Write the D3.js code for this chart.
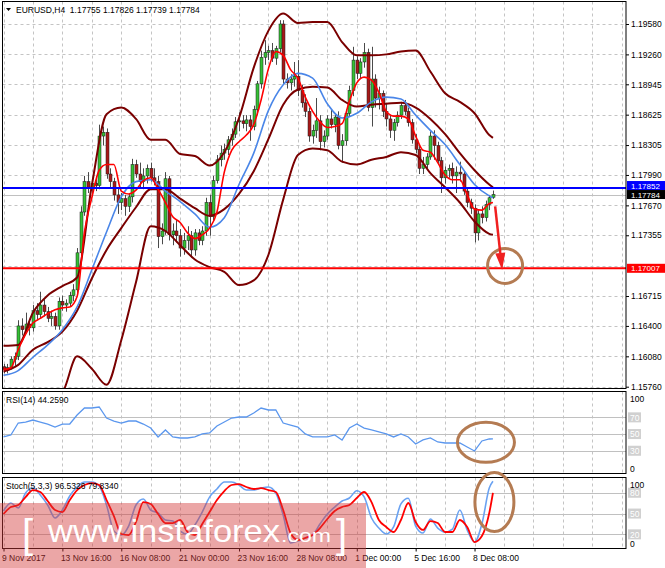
<!DOCTYPE html>
<html><head><meta charset="utf-8">
<script src="https://cdn.jsdelivr.net/npm/d3@7"></script>
<style>
html,body{margin:0;padding:0;background:#fff;}
svg{display:block;}
text{font-family:"Liberation Sans",Arial,sans-serif;}
</style></head><body>
<svg id="c" width="665" height="568"></svg>
<script>
// ---------- DATA ----------
const symbolTitle = "EURUSD,H4  1.17755 1.17826 1.17739 1.17784";
const rsiTitle = "RSI(14) 44.2590";
const stochTitle = "Stoch(5,3,3) 96.5326 79.8340";

const xTickBars = [0,16,32,48,64,80,96,112,128];
const xTickLabels = ["9 Nov 2017","13 Nov 16:00","16 Nov 08:00","21 Nov 00:00","23 Nov 16:00","28 Nov 08:00","1 Dec 00:00","5 Dec 16:00","8 Dec 08:00"];
const priceTicks = [1.19580,1.19260,1.18945,1.18625,1.18305,1.17990,1.17670,1.17355,1.17035,1.16715,1.16400,1.16080,1.15760];
const priceLabelTicks = [1.19580,1.19260,1.18945,1.18625,1.18305,1.17990,1.17670,1.17355,1.16715,1.16400,1.16080,1.15760];
const rsiLevels = [70,50,30];
const stochLevels = [80,50,20];

const open = [1.1597,1.1594,1.1596,1.1605,1.1608,1.1640,1.1636,1.1642,1.1638,1.1656,1.1652,1.1662,1.1655,1.1648,1.1650,1.1640,1.1666,1.1662,1.1664,1.1672,
1.1678,1.1717,1.1760,1.1792,1.1786,1.1790,1.1788,1.1840,1.1844,1.1800,1.1792,1.1778,1.1770,1.1774,1.1766,1.1776,1.1810,1.1800,1.1792,1.1798,
1.1806,1.1796,1.1792,1.1734,1.1740,1.1795,1.1736,1.1740,1.1735,1.1722,1.1730,1.1735,1.1720,1.1738,1.1730,1.1740,1.1770,1.1755,1.1793,1.1815,
1.1822,1.1826,1.1836,1.1842,1.1855,1.1856,1.1853,1.1857,1.1850,1.1868,1.1895,1.1923,1.1928,1.1930,1.1922,1.1932,1.1958,1.1900,1.1896,1.1900,
1.1903,1.1888,1.1875,1.1866,1.1840,1.1846,1.1856,1.1834,1.1840,1.1858,1.1852,1.1860,1.1830,1.1835,1.1864,1.1888,1.1920,1.1906,1.1918,1.1928,
1.1870,1.1900,1.1880,1.1885,1.1866,1.1858,1.1846,1.1854,1.1862,1.1872,1.1866,1.1854,1.1836,1.1826,1.1806,1.1810,1.1818,1.1840,1.1830,1.1814,
1.1796,1.1804,1.1806,1.1798,1.1802,1.1800,1.1782,1.1770,1.1764,1.1738,1.1758,1.1754,1.1768,1.17755];
const high = [1.1600,1.1600,1.1608,1.1612,1.1646,1.1648,1.1654,1.1646,1.1662,1.1664,1.1676,1.1668,1.1660,1.1656,1.1654,1.1670,1.1672,1.1668,1.1676,1.1684,
1.1722,1.1766,1.1798,1.1802,1.1796,1.1798,1.1852,1.1850,1.1848,1.1806,1.1796,1.1786,1.1780,1.1778,1.1780,1.1816,1.1815,1.1812,1.1806,1.1810,
1.1812,1.1806,1.1798,1.1748,1.1802,1.1798,1.1748,1.1752,1.1742,1.1738,1.1745,1.1740,1.1742,1.1742,1.1745,1.1775,1.1778,1.1798,1.1820,1.1830,
1.1832,1.1840,1.1848,1.1860,1.1865,1.1862,1.1862,1.1862,1.1872,1.1898,1.1930,1.1941,1.1935,1.1938,1.1935,1.1962,1.1962,1.1906,1.1905,1.1918,
1.1920,1.1894,1.1884,1.1870,1.1852,1.1880,1.1862,1.1846,1.1862,1.1868,1.1864,1.1866,1.1842,1.1868,1.1893,1.1934,1.1924,1.1922,1.1938,1.1932,
1.1934,1.1905,1.1892,1.1888,1.1875,1.1862,1.1858,1.1866,1.1876,1.1878,1.1870,1.1858,1.1842,1.1830,1.1818,1.1822,1.1845,1.1846,1.1834,1.1818,
1.1808,1.1810,1.1812,1.1808,1.1813,1.1803,1.1785,1.1774,1.1768,1.1762,1.1766,1.1772,1.1778,1.17826];
const low = [1.1590,1.1590,1.1594,1.1598,1.1604,1.1630,1.1632,1.1630,1.1634,1.1646,1.1648,1.1650,1.1644,1.1640,1.1636,1.1636,1.1656,1.1655,1.1660,1.1666,
1.1674,1.1712,1.1756,1.1780,1.1778,1.1782,1.1784,1.1830,1.1795,1.1786,1.1772,1.1758,1.1762,1.1756,1.1760,1.1770,1.1796,1.1786,1.1784,1.1790,
1.1792,1.1788,1.1722,1.1726,1.1736,1.1730,1.1725,1.1728,1.1713,1.1715,1.1720,1.1712,1.1714,1.1725,1.1725,1.1735,1.1735,1.1750,1.1790,1.1808,
1.1815,1.1820,1.1830,1.1838,1.1845,1.1848,1.1845,1.1835,1.1846,1.1862,1.1890,1.1915,1.1920,1.1918,1.1915,1.1928,1.1895,1.1890,1.1888,1.1892,
1.1882,1.1870,1.1860,1.1834,1.1832,1.1838,1.1825,1.1828,1.1836,1.1848,1.1844,1.1826,1.1812,1.1830,1.1860,1.1882,1.1900,1.1900,1.1912,1.1866,
1.1850,1.1870,1.1868,1.1860,1.1850,1.1838,1.1835,1.1850,1.1858,1.1862,1.1850,1.1832,1.1822,1.1800,1.1800,1.1806,1.1815,1.1815,1.1810,1.1780,
1.1790,1.1796,1.1790,1.1780,1.1792,1.1778,1.1765,1.1758,1.1728,1.1730,1.1748,1.1750,1.1762,1.17739];
const close = [1.1594,1.1596,1.1605,1.1608,1.1640,1.1636,1.1642,1.1638,1.1656,1.1652,1.1662,1.1655,1.1648,1.1650,1.1640,1.1666,1.1662,1.1664,1.1672,1.1678,
1.1717,1.1760,1.1792,1.1786,1.1790,1.1788,1.1840,1.1844,1.1800,1.1792,1.1778,1.1770,1.1774,1.1766,1.1776,1.1810,1.1800,1.1792,1.1798,1.1806,
1.1796,1.1792,1.1734,1.1740,1.1795,1.1736,1.1740,1.1735,1.1722,1.1730,1.1735,1.1720,1.1738,1.1730,1.1740,1.1770,1.1755,1.1793,1.1815,1.1822,
1.1826,1.1836,1.1842,1.1855,1.1856,1.1853,1.1857,1.1850,1.1868,1.1895,1.1923,1.1928,1.1930,1.1922,1.1932,1.1958,1.1900,1.1896,1.1900,1.1903,
1.1888,1.1875,1.1866,1.1840,1.1846,1.1856,1.1834,1.1840,1.1858,1.1852,1.1860,1.1830,1.1835,1.1864,1.1888,1.1920,1.1906,1.1918,1.1928,1.1870,
1.1900,1.1880,1.1885,1.1866,1.1858,1.1846,1.1854,1.1862,1.1872,1.1866,1.1854,1.1836,1.1826,1.1806,1.1810,1.1818,1.1840,1.1830,1.1814,1.1796,
1.1804,1.1806,1.1798,1.1802,1.1800,1.1782,1.1770,1.1764,1.1738,1.1758,1.1754,1.1768,1.1775,1.17784];

// indicator samples (bar index lists)
const slowBars = [0,4,8,12,16,20,24,28,32,36,40,44,48,52,56,60,64,68,72,76,80,84,88,92,96,100,104,108,112,116,120,124,128,132,133];
const bbUpper = [1.1619,1.1620,1.1654,1.1672,1.1682,1.1691,1.1788,1.1863,1.1870,1.1858,1.1836,1.1836,1.1821,1.1819,1.1809,1.1823,1.1859,1.1912,1.1951,1.1969,1.1959,1.1960,1.1960,1.1939,1.1925,1.1925,1.1926,1.1929,1.1930,1.1908,1.1885,1.1876,1.1864,1.1841,1.1838];
const bbMiddle = [1.1592,1.1599,1.1615,1.1623,1.1634,1.1656,1.1690,1.1720,1.1743,1.1765,1.1784,1.1784,1.1774,1.1764,1.1756,1.1763,1.1779,1.1803,1.1837,1.1873,1.1889,1.1892,1.1891,1.1878,1.1871,1.1873,1.1874,1.1875,1.1870,1.1858,1.1842,1.1822,1.1804,1.1789,1.1786];
const bbLower = [1.1562,1.1566,1.1563,1.1562,1.1570,1.1608,1.1595,1.1578,1.1625,1.1686,1.1745,1.1740,1.1725,1.1710,1.1702,1.1697,1.1683,1.1688,1.1715,1.1773,1.1820,1.1827,1.1825,1.1813,1.1810,1.1815,1.1818,1.1823,1.1820,1.1801,1.1786,1.1770,1.1750,1.1737,1.1736];
const maBlue = [1.1588,1.1593,1.1607,1.1620,1.1636,1.1660,1.1699,1.1739,1.1776,1.1792,1.1794,1.1782,1.1771,1.1758,1.1744,1.1754,1.1789,1.1822,1.1867,1.1894,1.1906,1.1901,1.1874,1.1859,1.1864,1.1876,1.1881,1.1879,1.1862,1.1846,1.1831,1.1810,1.1789,1.1777,1.1775];

const fastBars = [0,2,4,6,8,10,12,14,16,18,20,22,24,26,28,30,32,34,36,38,40,42,44,46,48,50,52,54,56,58,60,62,64,66,68,70,72,74,76,78,80,82,84,86,88,90,92,94,96,98,100,102,104,106,108,110,112,114,116,118,120,122,124,126,128,130,132,133];
const maRed = [1.1594,1.1596,1.1615,1.1631,1.1643,1.1648,1.1653,1.1657,1.1659,1.1660,1.1671,1.1739,1.1775,1.1804,1.1810,1.1810,1.1782,1.1779,1.1783,1.1793,1.1796,1.1784,1.1770,1.1755,1.1749,1.1738,1.1732,1.1736,1.1743,1.1760,1.1802,1.1825,1.1834,1.1841,1.1852,1.1878,1.1911,1.1929,1.1925,1.1910,1.1901,1.1881,1.1866,1.1855,1.1849,1.1850,1.1853,1.1877,1.1896,1.1902,1.1899,1.1886,1.1866,1.1861,1.1861,1.1858,1.1840,1.1825,1.1823,1.1812,1.1799,1.1794,1.1794,1.1778,1.1763,1.1762,1.1769,1.1770];
const rsi = [46.5,48.9,63.2,64.4,66.8,64.4,62.0,58.4,62.0,62.0,72.8,81.2,81.2,82.4,69.2,65.6,63.2,65.6,65.6,62.0,57.2,46.5,54.9,46.5,45.3,45.3,46.5,50.1,51.3,59.6,64.4,69.2,70.4,70.4,75.2,81.2,78.8,78.8,63.2,60.8,58.4,50.1,46.5,46.5,46.5,48.9,42.9,57.2,62.0,57.2,54.9,52.5,50.1,46.5,50.1,46.5,38.1,42.9,45.3,40.5,39.3,39.3,39.3,34.5,29.7,41.7,44.1,44.26];
const stochMain = [53.7,65.2,58.0,79.6,86.8,76.7,62.3,43.6,55.1,75.3,88.3,95.5,95.5,89.7,62.3,24.8,19.0,32.0,62.3,71.0,55.1,50.8,40.7,39.2,24.8,20.5,33.5,52.2,73.8,85.4,95.5,95.5,91.2,83.9,83.9,86.8,88.3,79.6,47.9,7.5,10.4,14.7,19.0,34.9,49.3,59.4,68.1,72.4,83.0,74.0,43.6,29.1,20.5,30.6,64.0,72.0,32.0,21.9,42.1,29.1,23.4,27.7,55.1,26.3,8.9,34.9,86.8,96.53];
const stochSignal = [49.3,59.4,62.3,73.8,83.9,81.1,68.1,55.1,52.2,69.5,83.9,91.2,94.0,91.2,69.5,46.4,20.5,19.0,37.8,66.6,63.8,49.3,36.3,36.3,40.7,23.4,19.0,34.9,52.2,69.5,82.5,91.2,92.6,88.3,85.4,86.8,83.9,81.1,55.1,21.9,11.8,14.7,19.0,29.1,42.1,53.7,59.4,62.3,72.4,81.1,66.6,40.7,30.6,23.4,40.7,65.2,37.8,26.3,39.2,36.3,23.4,23.4,40.7,30.6,8.9,17.6,50.8,79.83];

const hLines = [
  {v:1.17852, line:"#0000ff", w:2, box:"#0000ff", label:"1.17852"},
  {v:1.17784, line:"#c0c0c0", w:1, box:"#000000", label:"1.17784"},
  {v:1.17007, line:"#ff0000", w:2, box:"#ff0000", label:"1.17007"}
];
// annotations (bar index, value)
const arrowFrom = {bar:133.6, v:1.1766}, arrowTo = {bar:135.5, v:1.1699};
const mainCircle = {bar:136.3, v:1.17032};
const rsiEllipse = {bar:131.1, v:40.1};
const stochEllipse = {bar:133.4, v:66.6};

// ---------- LAYOUT ----------
const svg = d3.select("#c");
const L = 2.5, R = 626;
const mainTop = 1.5, mainBot = 388.5, rsiTop = 391.5, rsiBot = 473.5, stTop = 477.5, stBot = 548.5;
const x = d3.scaleLinear().domain([0,169]).range([3.5, 3.5 + 169*3.68]);
const y = d3.scaleLinear().domain([1.1576,1.1958]).range([386.7,24]);
const yR = d3.scaleLinear().domain([0,100]).range([475.8,392.3]);
const yS = d3.scaleLinear().domain([0,100]).range([548.2,478.9]);
const px = v => Math.round(v) + 0.5;

const defs = svg.append("defs");
[["cm",mainTop,mainBot],["cr",rsiTop,rsiBot],["cs",stTop,stBot]].forEach(([id,a,b])=>{
  defs.append("clipPath").attr("id",id).append("rect").attr("x",L).attr("y",a).attr("width",R-L).attr("height",b-a);
});

// vertical dashed grid
const gridIdx = d3.range(0,170,8);
[[mainTop,mainBot],[rsiTop,rsiBot],[stTop,stBot]].forEach(([a,b])=>{
  svg.append("g").selectAll("line").data(gridIdx).join("line")
    .attr("x1",d=>px(x(d))).attr("x2",d=>px(x(d))).attr("y1",a).attr("y2",b)
    .attr("stroke","#c4c4c4").attr("stroke-dasharray","3,3");
});
// horizontal dashed grid main
svg.append("g").selectAll("line").data(priceTicks).join("line")
  .attr("x1",L).attr("x2",R).attr("y1",d=>px(y(d))).attr("y2",d=>px(y(d)))
  .attr("stroke","#c4c4c4").attr("stroke-dasharray","3,3");
// levels
svg.append("g").selectAll("line").data(rsiLevels).join("line")
  .attr("x1",L).attr("x2",R).attr("y1",d=>px(yR(d))).attr("y2",d=>px(yR(d))).attr("stroke","#c0c0c0");
svg.append("g").selectAll("line").data(stochLevels).join("line")
  .attr("x1",L).attr("x2",R).attr("y1",d=>px(yS(d))).attr("y2",d=>px(yS(d))).attr("stroke","#c0c0c0");

// main content
const gm = svg.append("g").attr("clip-path","url(#cm)");
gm.append("line").attr("x1",L).attr("x2",R).attr("y1",px(y(hLines[1].v))).attr("y2",px(y(hLines[1].v)))
  .attr("stroke",hLines[1].line).attr("stroke-width",1);

const bars = close.map((c,i)=>({i,o:open[i],h:high[i],l:low[i],c}));
gm.append("g").selectAll("line").data(bars).join("line")
  .attr("x1",d=>px(x(d.i))).attr("x2",d=>px(x(d.i)))
  .attr("y1",d=>y(d.h)).attr("y2",d=>y(d.l)).attr("stroke","#4a4a4a").attr("stroke-width",1);
gm.append("g").selectAll("rect").data(bars).join("rect")
  .attr("x",d=>Math.round(x(d.i))-1).attr("width",3)
  .attr("y",d=>y(Math.max(d.o,d.c)))
  .attr("height",d=>Math.max(1,Math.abs(y(d.o)-y(d.c))))
  .attr("fill",d=>d.c>=d.o?"#35c035":"#a81818")
  .attr("stroke","#1c1c1c").attr("stroke-width",0.5);

const slowLine = d3.line().x(d=>x(d[0])).y(d=>y(d[1])).curve(d3.curveMonotoneX);
[bbUpper,bbMiddle,bbLower].forEach(arr=>{
  gm.append("path").attr("d",slowLine(slowBars.map((b,k)=>[b,arr[k]])))
    .attr("fill","none").attr("stroke","#7a0000").attr("stroke-width",2);
});
gm.append("path").attr("d",slowLine(slowBars.map((b,k)=>[b,maBlue[k]])))
  .attr("fill","none").attr("stroke","#4a86e8").attr("stroke-width",1.6);
const fastLine = d3.line().x(d=>x(d[0])).y(d=>y(d[1])).curve(d3.curveMonotoneX);
gm.append("path").attr("d",fastLine(fastBars.map((b,k)=>[b,maRed[k]])))
  .attr("fill","none").attr("stroke","#ff0000").attr("stroke-width",1.6);

[hLines[0],hLines[2]].forEach(h=>{
  gm.append("line").attr("x1",L).attr("x2",R).attr("y1",y(h.v)).attr("y2",y(h.v))
    .attr("stroke",h.line).attr("stroke-width",h.w);
});

// RSI
svg.append("path").attr("clip-path","url(#cr)")
  .attr("d",d3.line().x(d=>x(d[0])).y(d=>yR(d[1]))(fastBars.map((b,k)=>[b,rsi[k]])))
  .attr("fill","none").attr("stroke","#5b97ee").attr("stroke-width",1.3);
// Stoch
const gs = svg.append("g").attr("clip-path","url(#cs)");
gs.append("path").attr("d",d3.line().x(d=>x(d[0])).y(d=>yS(d[1])).curve(d3.curveMonotoneX)(fastBars.map((b,k)=>[b,stochMain[k]])))
  .attr("fill","none").attr("stroke","#6aa2f2").attr("stroke-width",1.6);
gs.append("path").attr("d",d3.line().x(d=>x(d[0])).y(d=>yS(d[1])).curve(d3.curveMonotoneX)(fastBars.map((b,k)=>[b,stochSignal[k]])))
  .attr("fill","none").attr("stroke","#ff0000").attr("stroke-width",1.8);

// frames
[[mainTop,mainBot],[rsiTop,rsiBot],[stTop,stBot]].forEach(([a,b])=>{
  svg.append("rect").attr("x",L).attr("y",a).attr("width",R-L).attr("height",b-a)
    .attr("fill","none").attr("stroke","#000").attr("stroke-width",1);
});

// axes
const fs = "8.5px";
const ax = svg.append("g").attr("transform",`translate(${R},0)`)
  .call(d3.axisRight(y).tickValues(priceLabelTicks).tickFormat(d3.format(".5f")).tickSize(3).tickPadding(2));
ax.select(".domain").remove();
ax.selectAll("text").style("font-size",fs).attr("fill","#000");

// price boxes (stacked so they do not overlap)
const boxH = 9;
const boxPos = hLines.map(h=>({h, c:y(h.v)})).sort((a,b)=>a.c-b.c);
for (let k=boxPos.length-2;k>=0;k--){
  if (boxPos[k+1].c - boxPos[k].c < boxH) boxPos[k].c = boxPos[k+1].c - boxH;
}
boxPos.forEach(({h,c})=>{
  svg.append("rect").attr("x",R+1).attr("y",c-boxH/2).attr("width",665-R-1).attr("height",boxH).attr("fill",h.box);
  svg.append("text").attr("x",R+5).attr("y",c+3).attr("fill","#fff").style("font-size","8px").text(h.label);
});

function oscAxis(scale, levels, top, bot){
  const g = svg.append("g").attr("transform",`translate(${R},0)`);
  levels.forEach(v=>{
    const yy = scale(v);
    g.append("rect").attr("x",2).attr("y",yy-5).attr("width",13).attr("height",10).attr("fill","#d0d0d0");
    g.append("text").attr("x",4).attr("y",yy+3.2).attr("fill","#fff").style("font-size",fs).text(v);
  });
  g.append("text").attr("x",4).attr("y",top+10).style("font-size",fs).text("100");
  g.append("text").attr("x",4).attr("y",bot-2).style("font-size",fs).text("0");
}
oscAxis(yR, rsiLevels, rsiTop, rsiBot);
oscAxis(yS, stochLevels, stTop, stBot);

// x axis
const xa = svg.append("g").attr("transform",`translate(0,${stBot})`)
  .call(d3.axisBottom(x).tickValues(xTickBars).tickFormat((d,i)=>xTickLabels[i]).tickSize(3).tickPadding(3));
xa.select(".domain").remove();
xa.selectAll("text").style("font-size",fs).attr("text-anchor","start").attr("dx","-2").attr("fill","#000");

// titles
svg.append("path").attr("d","M6,8 L11,8 L8.5,11 Z").attr("fill","#000");
svg.append("text").attr("x",16).attr("y",13).style("font-size",fs).style("white-space","pre").text(symbolTitle);
svg.append("text").attr("x",6).attr("y",403).style("font-size",fs).text(rsiTitle);
svg.append("text").attr("x",6).attr("y",489).style("font-size",fs).text(stochTitle);

// annotations
const brown = "#b47b52";
svg.append("circle").attr("cx",x(mainCircle.bar)).attr("cy",y(mainCircle.v)).attr("r",17.5)
  .attr("fill","none").attr("stroke",brown).attr("stroke-width",3);
svg.append("ellipse").attr("cx",x(rsiEllipse.bar)).attr("cy",yR(rsiEllipse.v)).attr("rx",28.5).attr("ry",20)
  .attr("fill","none").attr("stroke",brown).attr("stroke-width",3);
svg.append("ellipse").attr("cx",x(stochEllipse.bar)).attr("cy",yS(stochEllipse.v)).attr("rx",19.5).attr("ry",29.5)
  .attr("fill","none").attr("stroke",brown).attr("stroke-width",3);
{
  const x1=x(arrowFrom.bar), y1=y(arrowFrom.v), x2=x(arrowTo.bar), y2=y(arrowTo.v);
  const ang = Math.atan2(y2-y1,x2-x1), hl=17, hw=5;
  const bx = x2 - hl*Math.cos(ang), by = y2 - hl*Math.sin(ang);
  svg.append("line").attr("x1",x1).attr("y1",y1).attr("x2",bx).attr("y2",by)
    .attr("stroke","#f02020").attr("stroke-width",2.5);
  svg.append("path").attr("d",`M${x2},${y2} L${bx+hw*Math.sin(ang)},${by-hw*Math.cos(ang)} L${bx-hw*Math.sin(ang)},${by+hw*Math.cos(ang)} Z`)
    .attr("fill","#f02020");
}

// watermark
svg.append("rect").attr("x",0).attr("y",503).attr("width",366).attr("height",65)
  .attr("fill","rgb(210,58,58)").attr("opacity",0.45);
const wm = svg.append("g").attr("fill","#fff").style("font-family","'Open Sans','Liberation Sans',sans-serif").style("font-weight","300");
wm.append("text").attr("x",22).attr("y",548).style("font-size","40px").text("[");
wm.append("text").attr("x",48).attr("y",542).style("font-size","32px").attr("textLength",232).attr("lengthAdjust","spacingAndGlyphs").text("www.instaforex");
wm.append("text").attr("x",281).attr("y",542).style("font-size","19px").attr("textLength",50).attr("lengthAdjust","spacingAndGlyphs").text(".com");
wm.append("text").attr("x",336).attr("y",548).style("font-size","40px").text("]");
</script>
</body></html>
